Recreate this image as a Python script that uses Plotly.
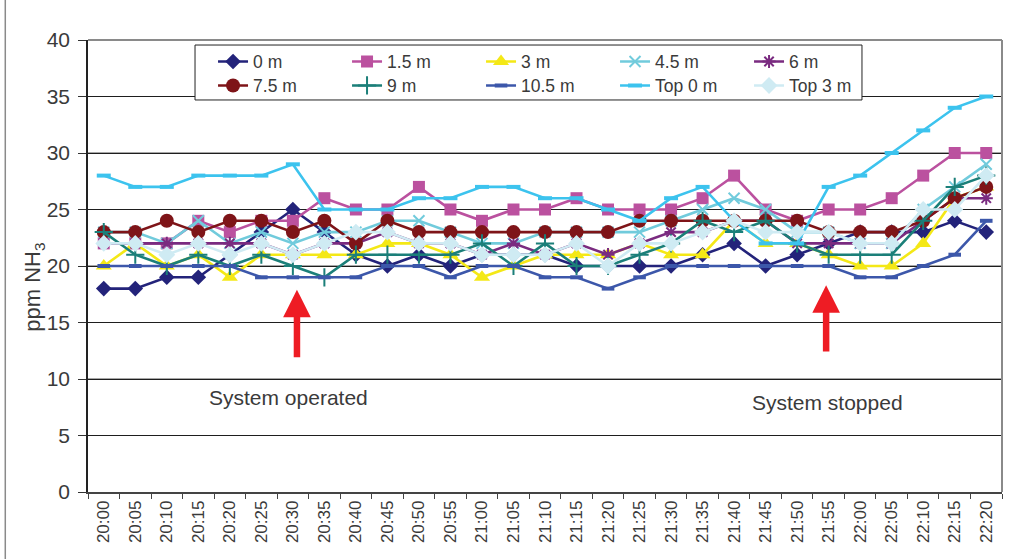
import plotly.graph_objects as go

# Sampling times (5-minute steps)
times = ["20:00", "20:05", "20:10", "20:15", "20:20", "20:25", "20:30", "20:35",
         "20:40", "20:45", "20:50", "20:55", "21:00", "21:05", "21:10", "21:15",
         "21:20", "21:25", "21:30", "21:35", "21:40", "21:45", "21:50", "21:55",
         "22:00", "22:05", "22:10", "22:15", "22:20"]

# NH3 concentration (ppm) at each measuring height
s_0m = [18, 18, 19, 19, 21, 23, 25, 23, 21, 20, 21, 20, 21, 21, 21, 20, 20, 20, 20,
        21, 22, 20, 21, 22, 23, 23, 23, 24, 23]
s_1_5m = [22, 22, 22, 24, 23, 24, 24, 26, 25, 25, 27, 25, 24, 25, 25, 26, 25, 25, 25,
          26, 28, 25, 24, 25, 25, 26, 28, 30, 30]
s_3m = [20, 22, 20, 21, 19, 21, 21, 21, 21, 22, 22, 21, 19, 20, 21, 21, 21, 22, 21,
        21, 24, 22, 22, 21, 20, 20, 22, 26, 27]
s_4_5m = [23, 23, 22, 24, 22, 23, 22, 23, 23, 24, 24, 23, 22, 22, 23, 23, 23, 23, 24,
          25, 26, 25, 23, 23, 22, 22, 25, 27, 29]
s_6m = [22, 22, 22, 22, 22, 22, 21, 22, 22, 23, 22, 22, 21, 22, 21, 22, 21, 22, 23,
        23, 24, 24, 22, 22, 22, 22, 24, 26, 26]
s_7_5m = [23, 23, 24, 23, 24, 24, 23, 24, 22, 24, 23, 23, 23, 23, 23, 23, 23, 24, 24,
          24, 24, 24, 24, 23, 23, 23, 24, 26, 27]
s_9m = [23, 21, 20, 21, 20, 21, 20, 19, 21, 21, 21, 21, 22, 20, 22, 20, 20, 21, 22,
        24, 23, 24, 22, 21, 21, 21, 24, 27, 28]
s_10_5m = [20, 20, 20, 20, 20, 19, 19, 19, 19, 20, 20, 19, 20, 20, 19, 19, 18, 19, 20,
           20, 20, 20, 20, 20, 19, 19, 20, 21, 24]
s_top0m = [28, 27, 27, 28, 28, 28, 29, 25, 25, 25, 26, 26, 27, 27, 26, 26, 25, 24, 26,
           27, 24, 22, 22, 27, 28, 30, 32, 34, 35]
s_top3m = [22, 22, 21, 22, 21, 22, 21, 22, 23, 23, 22, 22, 21, 21, 21, 22, 20, 22, 22,
           23, 24, 23, 23, 23, 22, 22, 25, 25, 28]

series_names = ["0 m", "1.5 m", "3 m", "4.5 m", "6 m",
                "7.5 m", "9 m", "10.5 m", "Top 0 m", "Top 3 m"]
series_values = [s_0m, s_1_5m, s_3m, s_4_5m, s_6m,
                 s_7_5m, s_9m, s_10_5m, s_top0m, s_top3m]

y_ticks = [0, 5, 10, 15, 20, 25, 30, 35, 40]

# Per-series style: colour, marker symbol, marker size, marker outline width
styles = [
    ("#23237a", "diamond", 12, 0),
    ("#bb519f", "square", 12, 0),
    ("#f4e816", "triangle-up", 14, 0),
    ("#71cbdc", "x-thin", 11, 2),
    ("#7a2b80", "asterisk", 11, 2),
    ("#7e1418", "circle", 14, 0),
    ("#1b7f79", "cross-thin", 13, 2),
    ("#3c57aa", "line-ew", 9, 4),
    ("#3cc3ee", "line-ew", 10, 4),
    ("#cfebf3", "diamond", 13, 0),
]

fig = go.Figure()
for i, (name, vals, (col, sym, size, lw)) in enumerate(zip(series_names, series_values, styles)):
    marker = dict(symbol=sym, size=size, color=col)
    if lw:
        marker["line"] = dict(color=col, width=lw)
    else:
        marker["line"] = dict(width=0)
    fig.add_trace(go.Scatter(
        x=times, y=vals, name=name, mode="lines+markers",
        line=dict(color=col, width=2.6), marker=marker,
        # first five series in the upper legend row, the rest in the lower one
        legend="legend" if i < 5 else "legend2",
    ))

text_col = "#3a3a3a"
font_family = "Liberation Sans, Arial, sans-serif"

# Arrows marking when the system was switched on and off
for xi, y_tip, y_tail in [(6.13, 17.9, 11.8), (22.92, 18.3, 12.3)]:
    fig.add_annotation(
        x=xi, y=y_tip, ax=xi, ay=y_tail, xref="x", yref="y", axref="x", ayref="y",
        showarrow=True, arrowhead=2, arrowsize=0.85, arrowwidth=6.5,
        arrowcolor="#ee1c24", text="",
    )
fig.add_annotation(x=5.87, y=8.4, xref="x", yref="y", text="System operated",
                   showarrow=False, font=dict(size=21, color=text_col))
fig.add_annotation(x=22.95, y=7.9, xref="x", yref="y", text="System stopped",
                   showarrow=False, font=dict(size=21, color=text_col))

# Y-axis title
fig.add_annotation(x=-0.059, y=0.452, xref="paper", yref="paper",
                   text="ppm NH<sub>3</sub>", textangle=-90, showarrow=False,
                   xanchor="center", yanchor="middle",
                   font=dict(size=22, color=text_col))

# Grey lines every 10 ppm and a grey frame on top/right of the plot area
for v in [10, 20, 30]:
    fig.add_shape(type="line", xref="paper", yref="y", x0=0, x1=1, y0=v, y1=v,
                  line=dict(color="#8a8a8a", width=1.6), layer="below")
fig.add_shape(type="line", xref="paper", yref="paper", x0=0, x1=1, y0=1, y1=1,
              line=dict(color="#8a8a8a", width=2))
fig.add_shape(type="line", xref="paper", yref="paper", x0=1, x1=1, y0=0, y1=1,
              line=dict(color="#8a8a8a", width=2))
# Outer frame line on the left of the figure
fig.add_shape(type="line", xref="paper", yref="paper", x0=-0.0905, x1=-0.0905,
              y0=-0.2, y1=1.1, line=dict(color="#8a8a8a", width=1.5))
# Legend box enclosing both legend rows
fig.add_shape(type="rect", xref="paper", yref="paper",
              x0=0.1171, x1=0.8468, y0=0.8673, y1=0.9889,
              fillcolor="white", line=dict(color="#222222", width=1))

legend_common = dict(
    orientation="h", xanchor="left", yanchor="top", x=0.1368,
    bgcolor="rgba(0,0,0,0)", borderwidth=0, entrywidth=89,
    font=dict(size=17.5, color=text_col, family=font_family),
    itemclick=False, itemdoubleclick=False,
)

fig.update_layout(
    width=1015, height=559,
    margin=dict(l=88, r=13, t=40, b=67),
    paper_bgcolor="white", plot_bgcolor="white",
    font=dict(family=font_family, color=text_col),
    showlegend=True,
    legend=dict(y=0.992, **legend_common),
    legend2=dict(y=0.939, **legend_common),
    xaxis=dict(
        type="category", tickangle=-90, tickson="boundaries",
        ticks="outside", ticklen=5, tickcolor="#444",
        showline=True, linecolor="#444", linewidth=1.5,
        showgrid=False, tickfont=dict(size=17, color=text_col),
        range=[-0.5, len(times) - 0.5],
    ),
    yaxis=dict(
        range=[0, 40], tickvals=y_ticks, ticks="outside", ticklen=8,
        tickcolor="#333", showline=True, linecolor="#222", linewidth=1.5,
        showgrid=True, gridcolor="#1e1e1e", gridwidth=1, zeroline=False,
        tickfont=dict(size=21, color=text_col), ticklabelstandoff=4,
    ),
)

fig.write_html("out.html")
